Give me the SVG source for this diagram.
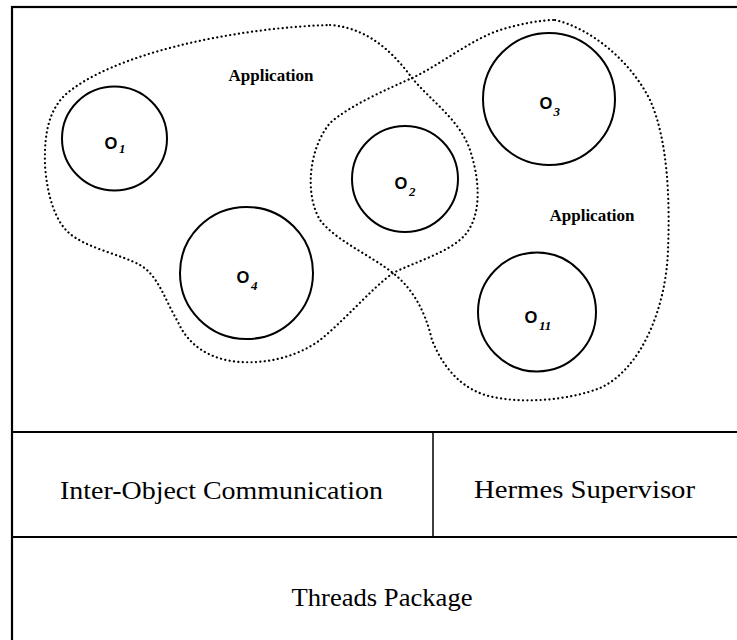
<svg xmlns="http://www.w3.org/2000/svg" width="737" height="640" viewBox="0 0 737 640">
  <style>
    .frame { fill: none; stroke: #000; stroke-width: 2.2; }
    .rule { stroke: #000; stroke-width: 2.2; }
    .divider { stroke: #000; stroke-width: 1.5; }
    .obj { fill: none; stroke: #000; stroke-width: 2; }
    .app { fill: none; stroke: #000; stroke-width: 2.2; stroke-linecap: round; stroke-dasharray: 0.1 4.3; }
    .olab { font-family: "Liberation Sans", Arial, sans-serif; font-size: 16.5px; font-weight: bold; fill: #000; }
    .osub { font-family: "Liberation Serif", "Times New Roman", serif; font-size: 13px; font-style: italic; font-weight: bold; fill: #000; }
    .applab { font-family: "Liberation Serif", "Times New Roman", serif; font-size: 17px; font-weight: bold; fill: #000; text-anchor: middle; }
    .layer { font-family: "Liberation Serif", "Times New Roman", serif; font-size: 25px; fill: #000; text-anchor: middle; }
  </style>

  <rect width="737" height="640" fill="#fff"/>

  <!-- outer frame and layer rules -->
  <g id="frame">
    <rect class="frame" x="12" y="7" width="760" height="700"/>
    <line class="rule" x1="12" y1="432" x2="772" y2="432"/>
    <line class="rule" x1="12" y1="537" x2="772" y2="537"/>
    <line class="divider" x1="433" y1="432" x2="433" y2="537"/>
  </g>

  <!-- application boundaries -->
  <g id="connectors">
    <path id="app-left" class="app" d="M 330,25
      C 370,28 395,55 412,78
      C 430,100 460,120 470,150
      C 480,180 482,215 465,235
      C 450,252 415,262 393,273
      C 370,290 345,320 320,340
      C 300,355 270,364 240,362
      C 210,360 188,345 178,322
      C 165,300 158,275 140,265
      C 120,254 85,248 68,232
      C 55,220 47,195 45,165
      C 44,130 50,110 65,95
      C 110,55 230,28 330,25 Z"/>
    <path id="app-right" class="app" d="M 555,20
      C 590,28 630,60 650,100
      C 668,140 670,200 668,250
      C 666,310 640,370 600,388
      C 570,400 520,405 485,395
      C 455,385 440,360 432,340
      C 425,310 412,288 393,273
      C 370,255 335,240 320,220
      C 305,195 308,150 330,123
      C 350,105 390,88 412,78
      C 440,65 470,40 500,30
      C 520,24 540,20 555,20 Z"/>
  </g>

  <g id="label-app-1"><text class="applab" x="271" y="81" textLength="85" lengthAdjust="spacingAndGlyphs">Application</text></g>
  <g id="label-app-2"><text class="applab" x="592" y="221" textLength="85" lengthAdjust="spacingAndGlyphs">Application</text></g>

  <!-- objects -->
  <g id="o1">
    <ellipse class="obj" cx="114.5" cy="138.5" rx="52.5" ry="52"/>
    <text class="olab" x="104.5" y="149">O</text><text class="osub" x="119" y="153">1</text>
  </g>
  <g id="o2">
    <ellipse class="obj" cx="405" cy="179" rx="53" ry="53"/>
    <text class="olab" x="394.5" y="189">O</text><text class="osub" x="409" y="195.5">2</text>
  </g>
  <g id="o3">
    <ellipse class="obj" cx="549" cy="99" rx="66" ry="66"/>
    <text class="olab" x="539.5" y="109">O</text><text class="osub" x="553.5" y="115.5">3</text>
  </g>
  <g id="o4">
    <ellipse class="obj" cx="246.5" cy="273" rx="66.5" ry="66"/>
    <text class="olab" x="236.5" y="283">O</text><text class="osub" x="251" y="289.5">4</text>
  </g>
  <g id="o11">
    <ellipse class="obj" cx="537" cy="312" rx="59" ry="59.5"/>
    <text class="olab" x="524.5" y="323">O</text><text class="osub" x="539" y="329.5">11</text>
  </g>

  <!-- layer labels -->
  <g id="ipc"><text class="layer" x="221.5" y="499" textLength="323" lengthAdjust="spacingAndGlyphs">Inter-Object  Communication</text></g>
  <g id="supervisor"><text class="layer" x="584.5" y="498" textLength="221" lengthAdjust="spacingAndGlyphs">Hermes Supervisor</text></g>
  <g id="threads"><text class="layer" x="382" y="606" textLength="181" lengthAdjust="spacingAndGlyphs">Threads Package</text></g>
</svg>
